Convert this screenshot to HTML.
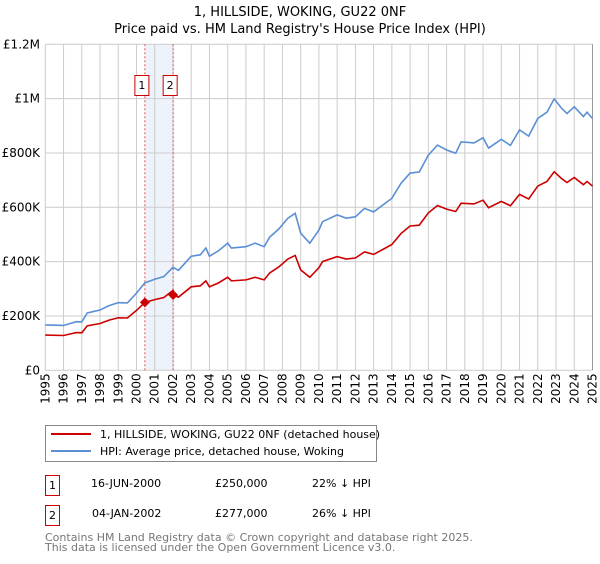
<!DOCTYPE html>
<html><head><meta charset="utf-8"><style>
body{margin:0;background:#fff;font-family:"DejaVu Sans","Liberation Sans",sans-serif;}
svg text{font-family:"DejaVu Sans","Liberation Sans",sans-serif;}
</style></head><body>
<svg width="600" height="560" xmlns="http://www.w3.org/2000/svg">
<text x="300" y="16" text-anchor="middle" font-size="13">1, HILLSIDE, WOKING, GU22 0NF</text>
<text x="300" y="33" text-anchor="middle" font-size="13">Price paid vs. HM Land Registry's House Price Index (HPI)</text>
<g id="plot"></g>
<g>
<rect x="45.5" y="425.5" width="331" height="36" fill="#fff" stroke="#888"/>
<line x1="51" y1="434" x2="91" y2="434" stroke="#cc0000" stroke-width="2"/>
<text x="100" y="438" font-size="11">1, HILLSIDE, WOKING, GU22 0NF (detached house)</text>
<line x1="51" y1="451" x2="91" y2="451" stroke="#5b8fd4" stroke-width="2"/>
<text x="100" y="455" font-size="11">HPI: Average price, detached house, Woking</text>
</g>
<g font-size="11">
<rect x="45.5" y="475.5" width="14" height="20" fill="#fff" stroke="#cc0000"/>
<text x="52.5" y="489" text-anchor="middle">1</text>
<text x="91" y="487">16-JUN-2000</text><text x="215" y="487">£250,000</text><text x="312" y="487">22% ↓ HPI</text>
<rect x="45.5" y="505.5" width="14" height="20" fill="#fff" stroke="#cc0000"/>
<text x="52.5" y="519" text-anchor="middle">2</text>
<text x="92" y="517">04-JAN-2002</text><text x="215" y="517">£277,000</text><text x="312" y="517">26% ↓ HPI</text>
</g>
<g font-size="11" fill="#777">
<text x="45" y="541">Contains HM Land Registry data © Crown copyright and database right 2025.</text>
<text x="45" y="551">This data is licensed under the Open Government Licence v3.0.</text>
</g>
</svg>
<script>
const hpiYears=[1995,1996,1996.7,1997,1997.3,1998,1998.5,1999,1999.5,2000,2000.46,2001,2001.5,2002,2002.3,2003,2003.5,2003.8,2004,2004.5,2005,2005.2,2006,2006.5,2007,2007.3,2007.8,2008.3,2008.7,2009,2009.5,2010,2010.2,2011,2011.5,2012,2012.5,2013,2014,2014.5,2015,2015.5,2016,2016.5,2017,2017.5,2017.8,2018.5,2019,2019.3,2020,2020.5,2021,2021.5,2022,2022.5,2022.9,2023.3,2023.6,2024,2024.5,2024.7,2025];
const hpiValues=[167000,165000,179000,178000,211000,222000,238000,249000,248000,284000,322000,335000,345000,379000,368000,420000,425000,450000,420000,440000,468000,450000,455000,468000,455000,490000,520000,560000,578000,505000,468000,516000,547000,572000,560000,565000,596000,583000,633000,688000,726000,730000,792000,829000,811000,799000,841000,837000,856000,818000,850000,828000,885000,862000,927000,950000,999000,965000,945000,970000,934000,950000,927000];
const saleDates=[2000.46,2002.01];
const salePrices=[250000,277000];
const saleLabels=["1","2"];
const yTicks=[0,200000,400000,600000,800000,1000000,1200000];
const yTickLabels=["£0","£200K","£400K","£600K","£800K","£1M","£1.2M"];
const xTicks=[1995,1996,1997,1998,1999,2000,2001,2002,2003,2004,2005,2006,2007,2008,2009,2010,2011,2012,2013,2014,2015,2016,2017,2018,2019,2020,2021,2022,2023,2024,2025];

const X0=45.3,X1=592.5,Y0=370.3,Y1=44.3;
const xs=t=>X0+(t-1995)/30*(X1-X0);
const ys=v=>Y0-v/1200000*(Y0-Y1);
const NS="http://www.w3.org/2000/svg";
const g=document.getElementById('plot');
function mk(tag,attrs){const e=document.createElementNS(NS,tag);for(const k in attrs)e.setAttribute(k,attrs[k]);g.appendChild(e);return e;}
function hpiAt(t){for(let i=1;i<hpiYears.length;i++){if(t<=hpiYears[i]){const f=(t-hpiYears[i-1])/(hpiYears[i]-hpiYears[i-1]);return hpiValues[i-1]+f*(hpiValues[i]-hpiValues[i-1]);}}return hpiValues[hpiValues.length-1];}
// shaded region
let sh=mk('rect',{x:xs(saleDates[0]),y:Y1,width:xs(saleDates[1])-xs(saleDates[0]),height:Y0-Y1,fill:'#eef3fb'});


xTicks.forEach(t=>{const l=mk('line',{x1:xs(t),x2:xs(t),y1:Y1,y2:Y0,stroke:'#cccccc'});


const tx=mk('text',{x:0,y:0,'font-size':12,'text-anchor':'end',transform:`translate(${xs(t)+4},${Y0+3}) rotate(-90)`});tx.textContent=t;

});
yTicks.forEach((v,i)=>{const l=mk('line',{x1:X0,x2:X1,y1:ys(v),y2:ys(v),stroke:'#cccccc'});


const tx=mk('text',{x:40,y:ys(v)+4,'font-size':12,'text-anchor':'end'});tx.textContent=yTickLabels[i];

});
const ra=mk('line',{x1:X1,x2:X1,y1:Y1,y2:Y0,stroke:'#999'});


// sale lines & boxes
saleDates.forEach((d,i)=>{const l=mk('line',{x1:xs(d),x2:xs(d),y1:Y1,y2:Y0,stroke:'#e05050','stroke-dasharray':'2,2'});


const r=mk('rect',{x:xs(d)-10,y:75.5,width:14,height:20,fill:'#fff',stroke:'#cc0000'});


const tx=mk('text',{x:xs(d)-3,y:89,'font-size':11,'text-anchor':'middle'});tx.textContent=saleLabels[i];

});
// HPI line
const hp=mk('polyline',{points:hpiYears.map((t,i)=>xs(t)+','+ys(hpiValues[i])).join(' '),fill:'none',stroke:'#5b8fd4','stroke-width':1.6});


// property line indexed from sales
function ratioAt(t){let k=0;for(let i=0;i<saleDates.length;i++)if(t>=saleDates[i])k=i;return salePrices[k]/hpiAt(saleDates[k]);}
const pts=[];hpiYears.forEach((t,i)=>{if(t<saleDates[1]&&i+1<hpiYears.length&&hpiYears[i+1]>=saleDates[1]){}pts.push([t,hpiValues[i]*ratioAt(t)]);});
saleDates.forEach((d,i)=>{pts.push([d-0.001,hpiAt(d-0.001)*ratioAt(d-0.001)]);pts.push([d,salePrices[i]]);});
pts.sort((a,b)=>a[0]-b[0]);
const pp=mk('polyline',{points:pts.map(p=>xs(p[0])+','+ys(p[1])).join(' '),fill:'none',stroke:'#cc0000','stroke-width':1.6});


saleDates.forEach((d,i)=>{const x=xs(d),y=ys(salePrices[i]);const m=mk('polygon',{points:`${x},${y-5} ${x+5},${y} ${x},${y+5} ${x-5},${y}`,fill:'#cc0000'});

});
</script>
</body></html>
